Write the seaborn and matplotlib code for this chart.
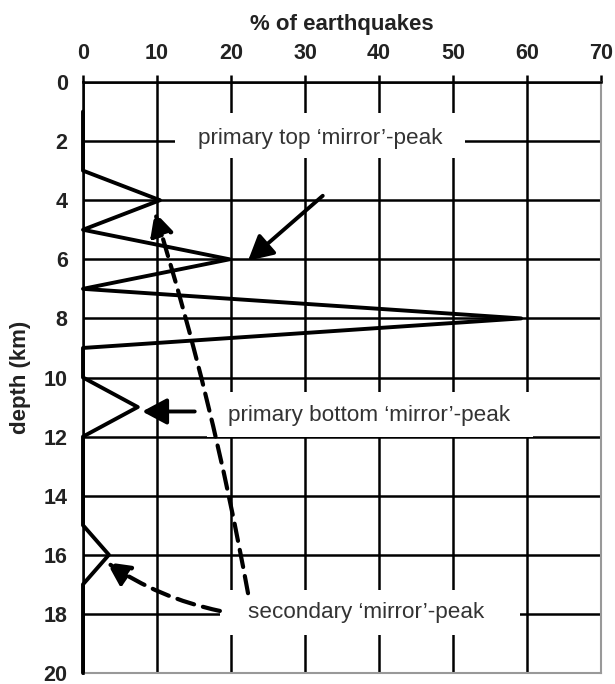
import matplotlib
matplotlib.use("Agg")
import matplotlib.pyplot as plt
import seaborn as sns
from matplotlib.patches import Rectangle

# data
depth_km = [1, 3, 4, 5, 6, 7, 8, 9, 10, 11, 12, 15, 16, 17, 20]
pct_quakes = [0, 0, 10.4, 0, 19.8, 0, 59.2, 0, 0, 7.4, 0, 0, 3.5, 0, 0]
x_ticks = [0, 10, 20, 30, 40, 50, 60, 70]
y_ticks = [0, 2, 4, 6, 8, 10, 12, 14, 16, 18, 20]
label_top = "primary top \u2018mirror\u2019-peak"
label_bottom = "primary bottom \u2018mirror\u2019-peak"
label_secondary = "secondary \u2018mirror\u2019-peak"

sns.set_style("white")
plt.rcParams['font.family'] = ['Liberation Sans', 'DejaVu Sans']

fig = plt.figure(figsize=(6.15, 6.84), dpi=100)
ax = fig.add_axes([83/615, 1-673/684, (601-83)/615, (673-82)/684])

ax.set_xlim(0, 70)
ax.set_ylim(20, 0)
ax.set_axisbelow(True)
ax.grid(True, color='black', linewidth=1.8, zorder=0.5)
ax.set_xticks(x_ticks)
ax.set_yticks(y_ticks)
ax.xaxis.tick_top()
ax.xaxis.set_label_position('top')
ax.tick_params(axis='both', which='major', length=5, width=1.8, color='black',
               labelsize=15.5, direction='out', labelcolor='#222222')
ax.tick_params(axis='x', pad=8)
ax.tick_params(axis='y', pad=6)
for lab in ax.get_xticklabels() + ax.get_yticklabels():
    lab.set_fontweight('bold')
ax.set_xlabel('% of earthquakes', fontsize=16, fontweight='bold', labelpad=9, color='#222222')
ax.set_ylabel('depth (km)', fontsize=16, fontweight='bold', labelpad=9, color='#222222')

for s in ['left', 'top']:
    ax.spines[s].set_color('black')
    ax.spines[s].set_linewidth(1.8)
for s in ['right', 'bottom']:
    ax.spines[s].set_color('#999999')
    ax.spines[s].set_linewidth(1.5)

# white boxes behind labels (cover grid)
for (x0, x1, y0, y1) in [(12.4, 51.6, 1.05, 2.57), (16.8, 60.8, 10.5, 12.0), (18.5, 59.1, 17.2, 18.7)]:
    ax.add_patch(Rectangle((x0, y0), x1 - x0, y1 - y0, facecolor='white',
                           edgecolor='none', zorder=1))

sns.lineplot(x=pct_quakes, y=depth_km, sort=False, estimator=None, ax=ax,
             color='black', linewidth=2.8, zorder=3)
for ln in ax.lines:
    ln.set_clip_on(False)

ax.text(32.0, 1.9, label_top, ha='center', va='center', fontsize=16.2, color='#333333', zorder=4)
ax.text(38.6, 11.3, label_bottom, ha='center', va='center', fontsize=16.2, color='#333333', zorder=4)
ax.text(38.2, 17.95, label_secondary, ha='center', va='center', fontsize=16.2, color='#333333', zorder=4)

solid = dict(arrowstyle='-|>,head_length=0.75,head_width=0.4', color='black', lw=2.8,
             shrinkA=0, shrinkB=0, mutation_scale=20)
ax.annotate('', xy=(22.3, 6.05), xytext=(32.4, 3.85), arrowprops=solid, zorder=4)
ax.annotate('', xy=(8.0, 11.15), xytext=(15.1, 11.15), arrowprops=solid, zorder=4)

dashed = dict(arrowstyle='-|>,head_length=0.7,head_width=0.35', color='black', lw=3.0,
              linestyle=(0, (4.2, 2.2)), shrinkA=0, shrinkB=0, mutation_scale=20)
ax.annotate('', xy=(9.7, 4.4), xytext=(22.3, 17.3),
            arrowprops=dict(dashed, connectionstyle='arc3,rad=0.03'), zorder=4)
ax.annotate('', xy=(3.2, 16.25), xytext=(18.5, 17.9),
            arrowprops=dict(dashed, connectionstyle='arc3,rad=-0.1'), zorder=4)

fig.savefig('out.png', dpi=100)
